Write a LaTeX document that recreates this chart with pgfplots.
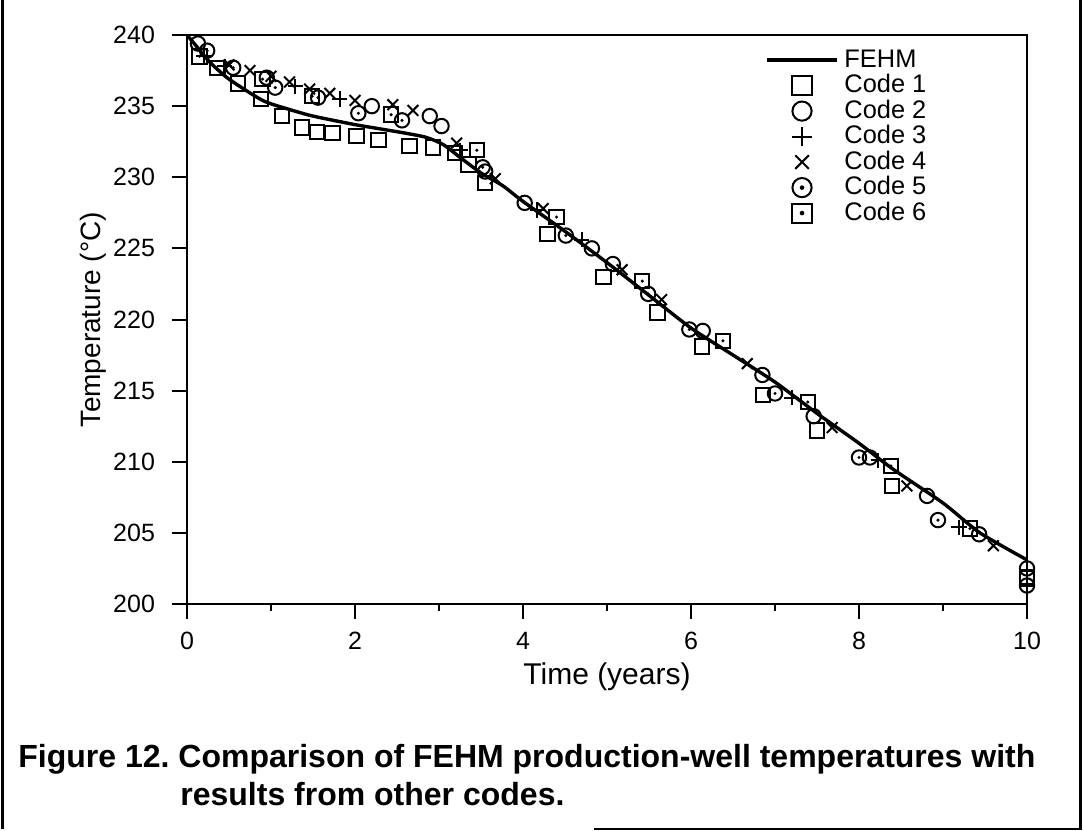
\documentclass[border=0pt]{standalone}
\usepackage{pgfplots}
\pgfplotsset{compat=1.18}
\usepackage{fontspec}
\setmainfont{Liberation Sans}

\pgfdeclareplotmark{odot}{%
  \pgfpathcircle{\pgfpointorigin}{\pgfplotmarksize}\pgfusepathqstroke
  \pgfpathcircle{\pgfpointorigin}{0.24\pgfplotmarksize}\pgfusepathqfill}
\pgfdeclareplotmark{sqdot}{%
  \pgfpathrectangle{\pgfpoint{-\pgfplotmarksize}{-\pgfplotmarksize}}{\pgfpoint{2\pgfplotmarksize}{2\pgfplotmarksize}}\pgfusepathqstroke
  \pgfpathcircle{\pgfpointorigin}{0.24\pgfplotmarksize}\pgfusepathqfill}

\pgfplotstableread{
x y
0 240.0
0.1 239.3
0.27 238.1
0.5 236.9
0.9 235.4
1.2 234.8
1.5 234.3
2.0 233.7
2.3 233.4
2.6 233.1
2.85 232.8
3.05 232.3
3.25 231.4
3.5 230.3
3.76 229.4
4.0 228.3
4.5 226.2
5.0 224.0
5.5 221.7
6.0 219.4
6.5 217.5
7.0 215.6
7.5 213.4
8.0 211.3
8.4 209.5
9.0 207.1
9.44 205.0
10.0 203.1
}\fehm

\pgfplotstableread{
x y
0.36 237.7
0.61 236.6
0.88 235.5
1.13 234.3
1.37 233.5
1.55 233.2
1.73 233.1
2.02 232.9
2.28 232.6
2.65 232.2
2.93 232.1
3.19 231.7
3.35 230.9
3.55 229.6
4.29 226.0
4.96 223.0
5.6 220.5
6.13 218.1
6.86 214.7
7.5 212.2
8.39 208.3
10.0 201.9
}\codeA

\pgfplotstableread{
x y
0.13 239.4
0.95 237.0
2.2 235.0
2.89 234.3
3.03 233.6
3.55 230.4
4.82 225.0
5.07 223.9
6.14 219.2
6.85 216.1
7.46 213.2
8.13 210.3
8.81 207.6
9.43 204.9
10.0 202.5
}\codeB

\pgfplotstableread{
x y
0.2 238.5
0.45 237.8
1.29 236.4
1.82 235.5
3.25 231.9
4.17 227.7
4.7 225.6
7.2 214.5
8.23 210.1
9.19 205.4
}\codeC

\pgfplotstableread{
x y
0.5 237.9
0.75 237.5
1.0 237.1
1.22 236.7
1.46 236.2
1.7 235.9
2.0 235.4
2.45 235.1
2.69 234.7
3.21 232.4
3.67 229.9
4.24 227.8
5.18 223.5
5.65 221.4
6.67 216.9
7.68 212.4
8.57 208.3
9.6 204.1
}\codeD

\pgfplotstableread{
x y
0.24 238.9
0.55 237.7
1.05 236.3
1.56 235.6
2.04 234.5
2.56 234.0
3.52 230.7
4.02 228.2
4.51 225.9
5.49 221.8
5.98 219.3
7.0 214.8
8.0 210.3
8.94 205.9
10.0 201.3
}\codeE

\pgfplotstableread{
x y
0.15 238.5
0.9 236.9
1.49 235.7
2.43 234.4
3.45 231.9
4.4 227.2
5.42 222.7
6.38 218.5
7.39 214.2
8.38 209.7
9.32 205.3
10.0 201.8
}\codeF

\begin{document}
\frenchspacing
\begin{tikzpicture}
\path[use as bounding box] (0,0) rectangle (541.5bp,-415.5bp);
\draw[line width=1.2bp] (1.2bp,0bp) -- (1.2bp,-414.6bp);
\draw[line width=1.2bp] (297bp,-414.6bp) -- (540.3bp,-414.6bp) -- (540.3bp,0bp);
\begin{axis}[
  at={(93.5bp,-302bp)}, anchor=south west,
  scale only axis, width=420bp, height=284.5bp,
  xmin=0, xmax=10, ymin=200, ymax=240,
  xtick={0,2,...,10}, minor xtick={1,3,5,7,9},
  ytick={200,205,...,240},
  tick align=outside, xtick pos=left, ytick pos=left,
  major tick length=7.5bp, minor tick length=3.5bp,
  axis line style={line width=1bp},
  tick style={line width=1bp, black},
  /pgf/number format/assume math mode=true,
  tick label style={font=\fontsize{12.5bp}{14bp}\selectfont},
  yticklabel style={xshift=-5bp},
  xticklabel style={yshift=-3bp},
  xlabel={Time (years)},
  ylabel={Temperature (°C)},
  xlabel style={font=\fontsize{15bp}{17bp}\selectfont, at={(axis description cs:0.5,-0.127)}, anchor=center},
  ylabel style={font=\fontsize{14bp}{16bp}\selectfont, at={(axis description cs:-0.112,0.5)}, anchor=center},
  legend image code/.code={\draw[mark repeat=2,mark phase=2,#1,mark size=4.8bp] plot coordinates {(0bp,0bp) (17.5bp,0bp) (35bp,0bp)};},
  legend style={draw=none, fill=none, at={(0.688,0.979)}, anchor=north west,
    inner sep=0pt, row sep=0pt, column sep=2.5bp,
    font=\fontsize{12.7bp}{15bp}\selectfont,
    nodes={inner sep=0.375bp, text height=9.5bp, text depth=2.5bp}},
  legend cell align=left,
]
\addplot[black, line width=1.7bp, no markers, smooth, tension=0.4] table {\fehm};
\addlegendentry{FEHM}
\addplot[black, only marks, mark=square, mark size=3.6bp, line width=1bp] table {\codeA};
\addlegendentry{Code 1}
\addplot[black, only marks, mark=o, mark size=3.6bp, line width=1bp] table {\codeB};
\addlegendentry{Code 2}
\addplot[black, only marks, mark=+, mark size=3.8bp, line width=1bp] table {\codeC};
\addlegendentry{Code 3}
\addplot[black, only marks, mark=x, mark size=3.8bp, line width=1bp] table {\codeD};
\addlegendentry{Code 4}
\addplot[black, fill=black, only marks, mark=odot, mark size=3.6bp, line width=1bp] table {\codeE};
\addlegendentry{Code 5}
\addplot[black, fill=black, only marks, mark=sqdot, mark size=3.6bp, line width=1bp] table {\codeF};
\addlegendentry{Code 6}
\end{axis}
\node[anchor=base west, inner sep=0pt, font=\fontsize{16bp}{19bp}\selectfont\bfseries] at (9bp,-383.5bp) {Figure 12. Comparison of FEHM production-well temperatures with};
\node[anchor=base west, inner sep=0pt, font=\fontsize{16bp}{19bp}\selectfont\bfseries] at (90bp,-402.5bp) {results from other codes.};
\end{tikzpicture}
\end{document}
